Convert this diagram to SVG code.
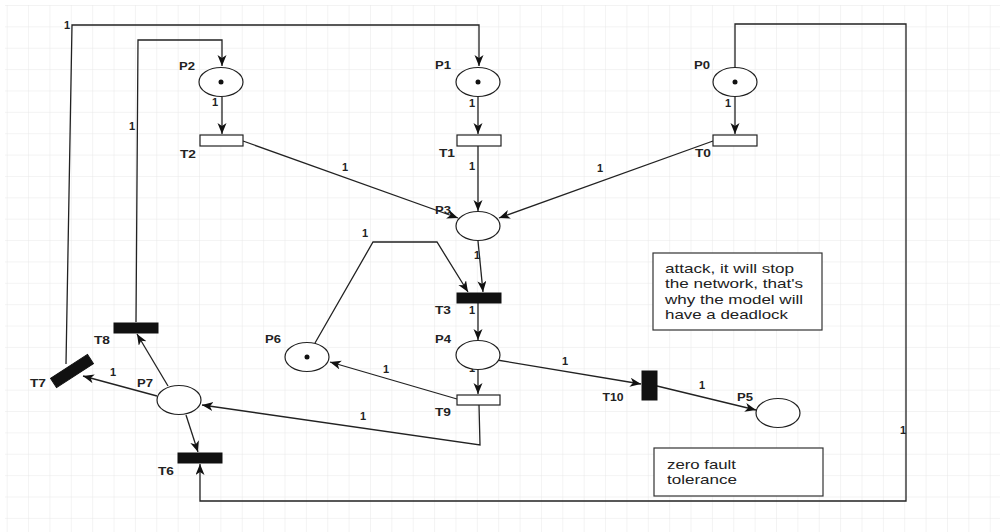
<svg xmlns="http://www.w3.org/2000/svg" width="1005" height="532" viewBox="0 0 1005 532">
<defs>
<pattern id="grid" x="6.7" y="5" width="21.37" height="21.37" patternUnits="userSpaceOnUse">
<path d="M0,0 L21.37,0 M0,0 L0,21.37" fill="none" stroke="#e8e8e8" stroke-width="1"/>
</pattern>
<marker id="arr" markerUnits="userSpaceOnUse" markerWidth="13" markerHeight="11" refX="11" refY="4.5" orient="auto">
<path d="M0,0 L11,4.5 L0,9 L3,4.5 z" fill="#111"/>
</marker>
</defs>
<style>
.c{fill:none;stroke:#222;stroke-width:1.3}
.ca{fill:none;stroke:#222;stroke-width:1.3;marker-end:url(#arr)}
.pl{fill:#fff;stroke:#222;stroke-width:1.2}
.tk{fill:#111}
.to{fill:#fff;stroke:#222;stroke-width:1.2}
.tb{fill:#111;stroke:#111;stroke-width:1}
.lb{font-family:"Liberation Sans",Arial,sans-serif;font-size:11px;font-weight:bold;fill:#222;text-anchor:middle}
.w{font-family:"Liberation Sans",Arial,sans-serif;font-size:11px;font-weight:bold;fill:#222;text-anchor:middle}
.bx{fill:#fff;stroke:#333;stroke-width:1.2}
.bt{font-family:"Liberation Sans",Arial,sans-serif;font-size:13px;fill:#222}
</style>
<rect x="0" y="0" width="1005" height="532" fill="#fff"/>
<rect x="5" y="5" width="995" height="527" fill="url(#grid)"/>

<g id="connectors">
<path class="ca" d="M222,97 L222,134"/>
<path class="ca" d="M478,97 L478,134"/>
<path class="ca" d="M735,97 L735,134"/>
<path class="ca" d="M478,146 L478,211"/>
<path class="ca" d="M243,141 L458,218"/>
<path class="ca" d="M713,141 L499,218"/>
<path class="ca" d="M478,241 L483,292"/>
<path class="ca" d="M315,343 L373,242 L437,242 L468,292"/>
<path class="ca" d="M478,303 L478,340"/>
<path class="ca" d="M497,360 L641,384"/>
<path class="ca" d="M657,386 L756,410"/>
<path class="ca" d="M478,370 L478,394"/>
<path class="ca" d="M457,399 L330,362"/>
<path class="ca" d="M479,405 L480,445 L202,405"/>
<path class="ca" d="M157,396 L83,376"/>
<path class="ca" d="M168,386 L137,334"/>
<path class="ca" d="M186,415 L198,452"/>
<path class="ca" d="M66,364 L72,25 L479,25 L479,66"/>
<path class="ca" d="M136,322 L138,40 L222,40 L222,66"/>
<path class="ca" d="M735,67 L735,24 L906,24 L906,501 L200,501 L200,464"/>
<g id="arc-labels">
<text class="w" x="67" y="29">1</text>
<text class="w" x="132" y="130">1</text>
<text class="w" x="215" y="106">1</text>
<text class="w" x="472" y="107">1</text>
<text class="w" x="728" y="107">1</text>
<text class="w" x="472" y="170">1</text>
<text class="w" x="345" y="171">1</text>
<text class="w" x="600" y="172">1</text>
<text class="w" x="477" y="259">1</text>
<text class="w" x="365" y="237">1</text>
<text class="w" x="472" y="314">1</text>
<text class="w" x="565" y="365">1</text>
<text class="w" x="702" y="389">1</text>
<text class="w" x="386" y="373">1</text>
<text class="w" x="363" y="420">1</text>
<text class="w" x="113" y="376">1</text>
<text class="w" x="903" y="434">1</text>
<text class="w" x="472" y="372">1</text>
</g>
</g>

<g id="P2"><ellipse class="pl" cx="221" cy="82" rx="22" ry="14.5"/><circle class="tk" cx="221" cy="82" r="2.5"/><text class="lb" x="187" y="70" textLength="16" lengthAdjust="spacingAndGlyphs">P2</text></g>
<g id="P1"><ellipse class="pl" cx="478" cy="82" rx="22" ry="14.5"/><circle class="tk" cx="478" cy="82" r="2.5"/><text class="lb" x="443" y="69" textLength="16" lengthAdjust="spacingAndGlyphs">P1</text></g>
<g id="P0"><ellipse class="pl" cx="735" cy="82" rx="22" ry="14.5"/><circle class="tk" cx="735" cy="82" r="2.5"/><text class="lb" x="702" y="69" textLength="16" lengthAdjust="spacingAndGlyphs">P0</text></g>
<g id="T2"><rect class="to" x="200" y="135" width="43" height="11"/><text class="lb" x="188" y="158" textLength="16" lengthAdjust="spacingAndGlyphs">T2</text></g>
<g id="T1"><rect class="to" x="457" y="135" width="44" height="11"/><text class="lb" x="447" y="157" textLength="16" lengthAdjust="spacingAndGlyphs">T1</text></g>
<g id="T0"><rect class="to" x="713" y="135" width="44" height="11"/><text class="lb" x="703" y="157" textLength="16" lengthAdjust="spacingAndGlyphs">T0</text></g>
<g id="P3"><ellipse class="pl" cx="478" cy="226" rx="22" ry="14.5"/><text class="lb" x="443" y="214" textLength="16" lengthAdjust="spacingAndGlyphs">P3</text></g>
<g id="T3"><rect class="tb" x="457" y="293" width="44" height="10"/><text class="lb" x="443" y="314" textLength="16" lengthAdjust="spacingAndGlyphs">T3</text></g>
<g id="P4"><ellipse class="pl" cx="478" cy="355" rx="22" ry="14.5"/><text class="lb" x="443" y="343" textLength="16" lengthAdjust="spacingAndGlyphs">P4</text></g>
<g id="T9"><rect class="to" x="457" y="395" width="43" height="10"/><text class="lb" x="443" y="416" textLength="16" lengthAdjust="spacingAndGlyphs">T9</text></g>
<g id="T10"><rect class="tb" x="642" y="371" width="15" height="29"/><text class="lb" x="613" y="401" textLength="21" lengthAdjust="spacingAndGlyphs">T10</text></g>
<g id="P5"><ellipse class="pl" cx="778" cy="413" rx="22" ry="14.5"/><text class="lb" x="745" y="401" textLength="16" lengthAdjust="spacingAndGlyphs">P5</text></g>
<g id="P6"><ellipse class="pl" cx="307" cy="357" rx="22" ry="14.5"/><circle class="tk" cx="307" cy="357" r="2.5"/><text class="lb" x="273" y="343" textLength="16" lengthAdjust="spacingAndGlyphs">P6</text></g>
<g id="P7"><ellipse class="pl" cx="179" cy="400" rx="22" ry="14.5"/><text class="lb" x="145" y="387" textLength="16" lengthAdjust="spacingAndGlyphs">P7</text></g>
<g id="T8"><rect class="tb" x="114" y="323" width="44" height="10"/><text class="lb" x="102" y="344" textLength="16" lengthAdjust="spacingAndGlyphs">T8</text></g>
<g id="T7"><rect class="tb" x="-22" y="-5.5" width="44" height="11" transform="translate(72,371) rotate(-33)"/><text class="lb" x="38" y="387" textLength="16" lengthAdjust="spacingAndGlyphs">T7</text></g>
<g id="T6"><rect class="tb" x="178" y="453" width="44" height="10"/><text class="lb" x="166" y="475" textLength="16" lengthAdjust="spacingAndGlyphs">T6</text></g>

<g id="note-attack"><rect class="bx" x="653" y="253" width="169" height="77"/>
<text class="bt" x="665" y="273" textLength="129" lengthAdjust="spacingAndGlyphs">attack, it will stop</text>
<text class="bt" x="665" y="288" textLength="138" lengthAdjust="spacingAndGlyphs">the network, that's</text>
<text class="bt" x="665" y="304" textLength="138" lengthAdjust="spacingAndGlyphs">why the model will</text>
<text class="bt" x="665" y="319" textLength="123" lengthAdjust="spacingAndGlyphs">have a deadlock</text>
</g>
<g id="note-zero"><rect class="bx" x="654" y="448" width="169" height="48"/>
<text class="bt" x="667" y="469" textLength="69" lengthAdjust="spacingAndGlyphs">zero fault</text>
<text class="bt" x="667" y="484" textLength="70" lengthAdjust="spacingAndGlyphs">tolerance</text>
</g>
</svg>
